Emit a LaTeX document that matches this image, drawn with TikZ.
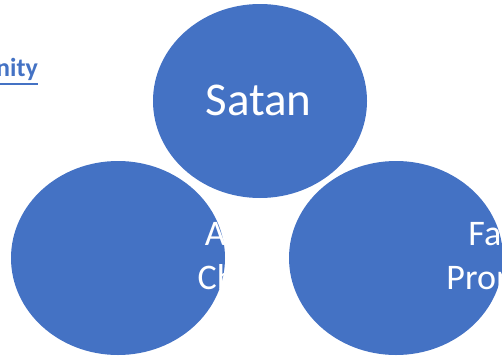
\documentclass[tikz,border=0pt]{standalone}
\usepackage{fontspec}
\setmainfont{Carlito}
\usetikzlibrary{shapes.geometric,calc}
\definecolor{blobblue}{HTML}{4472C4}
\definecolor{linkblue}{HTML}{4472C4}
\tikzset{
  blob/.style={ellipse, fill=blobblue, draw=none, minimum width=214pt, minimum height=194pt, inner sep=0pt},
  bigtext/.style={text=white, inner sep=0pt, font=\fontsize{47}{56}\selectfont},
  midtext/.style={text=white, inner sep=0pt, anchor=base, font=\fontsize{36}{44}\selectfont},
  titletext/.style={text=linkblue, inner sep=0pt, font=\bfseries\fontsize{26}{31}\selectfont}
}
\begin{document}
\begin{tikzpicture}[x=1pt, y=-1pt]
\useasboundingbox (0,0) rectangle (502,356);
% title (cut at the left edge)
\node[titletext, anchor=base east] (title) at (38,76) {Unholy Trinity};
\draw[linkblue, line width=2pt] ([yshift=-8pt]title.base west) -- ([yshift=-8pt]title.base east);
% ellipses
\node[blob] (satan) at (260,101) {};
\node[bigtext, anchor=base] (satanlabel) at (258.5,115) {Satan};
\node[blob, path picture={
    \node[midtext] at ($(path picture bounding box.center)+(122pt,13pt)$) {Anti-};
    \node[midtext] at ($(path picture bounding box.center)+(122pt,-31pt)$) {Christ};
  }] (antichrist) at (118,258) {};
\node[blob, path picture={
    \node[midtext] at ($(path picture bounding box.center)+(109pt,13pt)$) {False};
    \node[midtext] at ($(path picture bounding box.center)+(109pt,-31pt)$) {Prophet};
  }] (prophet) at (396,258) {};
\end{tikzpicture}
\end{document}
